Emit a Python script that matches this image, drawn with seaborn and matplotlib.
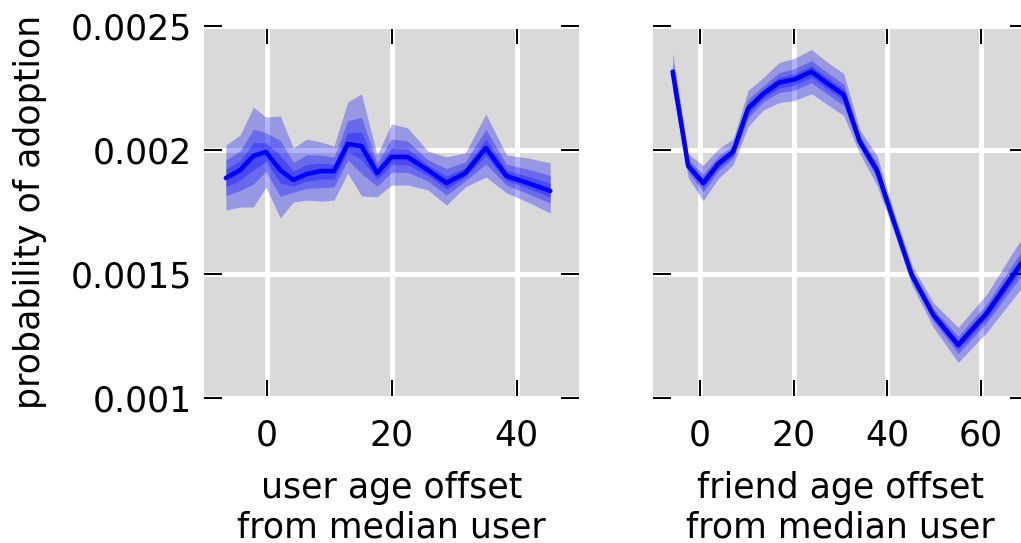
import matplotlib
matplotlib.use("Agg")
import matplotlib.pyplot as plt
import numpy as np
import seaborn as sns

# ---- user age offset panel: mean adoption with three nested uncertainty bands ----
user_offset = [-6.5, -4.2, -2.1, -0.1, 2.2, 4.3, 6.4, 8.7, 10.8, 13.0, 15.2,
               17.7, 20.0, 22.6, 25.8, 28.8, 31.8, 35.1, 38.4, 41.8, 45.4]
user_mean = [0.001887, 0.001919, 0.001976, 0.001992, 0.001919, 0.001879, 0.001903,
             0.001915, 0.001915, 0.002024, 0.002016, 0.001907, 0.001972, 0.001972,
             0.001919, 0.001867, 0.001907, 0.002008, 0.001895, 0.001867, 0.001835]
user_hi_outer = [0.002020, 0.002061, 0.002173, 0.002133, 0.002137, 0.002008, 0.002044,
                 0.002032, 0.002016, 0.002194, 0.002226, 0.001980, 0.002105, 0.002089,
                 0.001996, 0.001972, 0.001988, 0.002145, 0.001980, 0.001968, 0.001948]
user_lo_outer = [0.001758, 0.001770, 0.001770, 0.001851, 0.001726, 0.001790, 0.001798,
                 0.001794, 0.001798, 0.001907, 0.001815, 0.001811, 0.001859, 0.001859,
                 0.001839, 0.001778, 0.001851, 0.001891, 0.001827, 0.001790, 0.001746]
user_hi_mid = [0.001960, 0.001997, 0.002084, 0.002070, 0.002039, 0.001950, 0.001981,
               0.001979, 0.001971, 0.002118, 0.002132, 0.001947, 0.002045, 0.002036,
               0.001961, 0.001925, 0.001952, 0.002083, 0.001942, 0.001923, 0.001897]
user_lo_mid = [0.001816, 0.001837, 0.001863, 0.001914, 0.001813, 0.001830, 0.001845,
               0.001848, 0.001851, 0.001960, 0.001905, 0.001854, 0.001910, 0.001910,
               0.001875, 0.001818, 0.001876, 0.001944, 0.001858, 0.001825, 0.001786]
user_hi_inner = [0.001923, 0.001957, 0.002029, 0.002030, 0.001978, 0.001914, 0.001941,
                 0.001947, 0.001942, 0.002070, 0.002073, 0.001927, 0.002008, 0.002004,
                 0.001940, 0.001895, 0.001929, 0.002045, 0.001918, 0.001894, 0.001866]
user_lo_inner = [0.001852, 0.001879, 0.001920, 0.001954, 0.001867, 0.001855, 0.001875,
                 0.001882, 0.001883, 0.001992, 0.001962, 0.001881, 0.001941, 0.001941,
                 0.001897, 0.001843, 0.001892, 0.001976, 0.001877, 0.001846, 0.001811]

# ---- friend age offset panel: mean adoption and band half-widths ----
friend_offset = [-5.8, -2.5, 0.7, 3.9, 7.1, 10.3, 13.5, 16.9, 20.1, 23.8, 27.4,
                 30.7, 34.1, 37.8, 41.4, 45.2, 49.8, 55.1, 61.2, 67.6, 74.0]
friend_mean = [0.002316, 0.001936, 0.001867, 0.001944, 0.001993, 0.002168, 0.002226,
               0.002272, 0.002284, 0.002316, 0.002266, 0.002223, 0.002034, 0.001917,
               0.001710, 0.001496, 0.001335, 0.001214, 0.001342, 0.001516, 0.001686]
friend_err_outer = [0.000077, 0.000048, 0.000071, 0.000060, 0.000052, 0.000073, 0.000065,
                    0.000081, 0.000085, 0.000089, 0.000085, 0.000085, 0.000048, 0.000060,
                    0.000040, 0.000040, 0.000050, 0.000071, 0.000077, 0.000097, 0.000100]
friend_err_mid = [0.000038, 0.000024, 0.000036, 0.000030, 0.000026, 0.000037, 0.000032,
                  0.000040, 0.000043, 0.000045, 0.000043, 0.000043, 0.000024, 0.000030,
                  0.000020, 0.000020, 0.000025, 0.000035, 0.000038, 0.000048, 0.000050]
friend_err_inner = [0.000021, 0.000013, 0.000019, 0.000016, 0.000014, 0.000020, 0.000018,
                    0.000022, 0.000023, 0.000024, 0.000023, 0.000023, 0.000013, 0.000016,
                    0.000011, 0.000011, 0.000014, 0.000019, 0.000021, 0.000026, 0.000027]

y_ticks = [0.001, 0.0015, 0.002, 0.0025]
y_tick_labels = ["0.001", "0.0015", "0.002", "0.0025"]
user_x_ticks = [0, 20, 40]
friend_x_ticks = [0, 20, 40, 60]
y_label = "probability of adoption"
user_x_label = "user age offset\nfrom median user"
friend_x_label = "friend age offset\nfrom median user"

sns.set_style("darkgrid", {"axes.facecolor": "#d9d9d9", "grid.color": "white"})
plt.rcParams["font.family"] = ["DejaVu Sans"]
plt.rcParams["font.size"] = 25
plt.rcParams["text.color"] = "black"
plt.rcParams["axes.labelcolor"] = "black"
plt.rcParams["xtick.color"] = "black"
plt.rcParams["ytick.color"] = "black"

W, H = 1021, 543
fig = plt.figure(figsize=(W / 100, H / 100), dpi=100)
fig.patch.set_facecolor("white")
ax_user = fig.add_axes([204 / W, 145 / H, 375 / W, 372 / H])
ax_friend = fig.add_axes([653 / W, 145 / H, 375 / W, 372 / H])


def draw_panel(ax, x, mean, bands, xlim, xticks, xlabel, show_ylabels):
    x = np.asarray(x)
    for lo, hi in bands:
        ax.fill_between(x, lo, hi, color="blue", alpha=0.3, linewidth=0, zorder=2)
    sns.lineplot(x=x, y=np.asarray(mean), ax=ax, color="blue", linewidth=3.3,
                 sort=False, estimator=None, zorder=3)
    ax.set_xlim(*xlim)
    ax.set_ylim(0.001, 0.0025)
    ax.set_xticks(xticks)
    ax.set_xticklabels([str(t) for t in xticks], fontsize=25, color="black")
    ax.set_yticks(y_ticks)
    if show_ylabels:
        ax.set_yticklabels(y_tick_labels, fontsize=25, color="black")
    else:
        ax.set_yticklabels([])
    ax.set_axisbelow(True)
    ax.grid(True, color="white", linewidth=3.6)
    for spine in ax.spines.values():
        spine.set_visible(False)
    ax.tick_params(direction="in", length=12.7, width=1.4, color="black",
                   top=True, right=True, bottom=True, left=True,
                   labelcolor="black")
    ax.tick_params(axis="x", pad=15)
    ax.tick_params(axis="y", pad=8.5)
    ax.set_ylabel("")
    ax.set_xlabel(xlabel, fontsize=25, labelpad=13, color="black")


user_bands = [(user_lo_outer, user_hi_outer),
              (user_lo_mid, user_hi_mid),
              (user_lo_inner, user_hi_inner)]
draw_panel(ax_user, user_offset, user_mean, user_bands, (-10, 50),
           user_x_ticks, user_x_label, True)

fm = np.asarray(friend_mean)
friend_bands = [(fm - np.asarray(e), fm + np.asarray(e))
                for e in (friend_err_outer, friend_err_mid, friend_err_inner)]
draw_panel(ax_friend, friend_offset, friend_mean, friend_bands, (-10, 70),
           friend_x_ticks, friend_x_label, False)

fig.text(30 / W, 1 - 212 / H, y_label, rotation=90, ha="center", va="center",
         fontsize=25, color="black")

fig.savefig("out.png", dpi=100)
